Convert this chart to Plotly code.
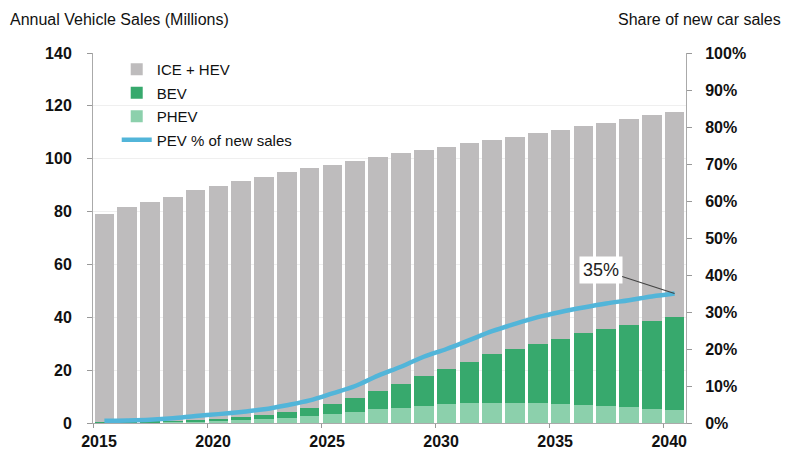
import plotly.graph_objects as go

years = list(range(2015, 2041))
ice_hev = [78.8, 81.2, 82.9, 84.9, 86.9, 88.3, 89.3, 90.1, 90.8, 90.9, 90.6, 89.9, 88.4,
           87.4, 85.7, 84.1, 82.9, 80.9, 80.2, 79.8, 79.2, 78.3, 77.9, 77.9, 77.7, 77.5]
bev = [0.15, 0.2, 0.3, 0.4, 0.6, 0.8, 1.2, 1.6, 2.0, 2.9, 3.7, 5.0, 6.9,
       8.8, 11.0, 13.4, 15.5, 18.3, 20.3, 22.3, 24.6, 27.1, 29.2, 31.1, 33.3, 35.3]
phev = [0.15, 0.2, 0.3, 0.4, 0.5, 0.7, 1.0, 1.4, 2.0, 2.6, 3.4, 4.3, 5.2,
        5.8, 6.6, 7.1, 7.4, 7.7, 7.7, 7.5, 7.2, 6.8, 6.4, 5.9, 5.4, 4.9]
pev_share = [0.6, 0.7, 0.9, 1.3, 1.9, 2.4, 3.0, 3.7, 4.8, 6.1, 8.0, 10.0, 12.8,
             15.2, 17.9, 20.0, 22.4, 24.8, 26.8, 28.6, 30.0, 31.2, 32.3, 33.2, 34.2, 35.0]
label_years = [2015, 2020, 2025, 2030, 2035, 2040]
left_ticks = [0, 20, 40, 60, 80, 100, 120, 140]
right_ticks = [0, 10, 20, 30, 40, 50, 60, 70, 80, 90, 100]
right_labels = ["0%", "10%", "20%", "30%", "40%", "50%", "60%", "70%", "80%", "90%", "100%"]

FONT = "Liberation Sans, Arial, sans-serif"
tickfont = dict(family=FONT, size=16, color="#111111", weight="bold")

fig = go.Figure()
fig.add_trace(go.Bar(x=years, y=phev, name="PHEV", marker_color="#8CD0AC",
                     marker_line_width=0, legendrank=3, legendgroup="c"))
fig.add_trace(go.Bar(x=years, y=bev, name="BEV", marker_color="#37A96D",
                     marker_line_width=0, legendrank=2, legendgroup="b"))
fig.add_trace(go.Bar(x=years, y=ice_hev, name="ICE + HEV", marker_color="#BEBCBD",
                     marker_line_width=0, legendrank=1, legendgroup="a"))
fig.add_trace(go.Scatter(x=years, y=pev_share, name="PEV % of new sales", yaxis="y2",
                         mode="lines", line=dict(color="#52B5D9", width=4.5, shape="spline"),
                         legendrank=4, legendgroup="d"))

fig.add_annotation(x=years[-1], y=pev_share[-1], xref="x", yref="y2",
                   text="35%", showarrow=True, arrowhead=0, arrowwidth=1.2,
                   arrowcolor="#444444", ax=-74, ay=-24, standoff=0,
                   bgcolor="white", borderpad=3,
                   font=dict(family=FONT, size=18, color="#222222"))

fig.add_annotation(text="Annual Vehicle Sales (Millions)", xref="paper", yref="paper",
                   x=-0.1425, y=1.09, xanchor="left", yanchor="middle", showarrow=False,
                   font=dict(family=FONT, size=16, color="#111111"))
fig.add_annotation(text="Share of new car sales", xref="paper", yref="paper",
                   x=1.163, y=1.09, xanchor="right", yanchor="middle", showarrow=False,
                   font=dict(family=FONT, size=16, color="#111111"))

fig.update_layout(
    width=800, height=458,
    margin=dict(l=85, r=122, t=45, b=43),
    paper_bgcolor="white", plot_bgcolor="white",
    barmode="stack", bargap=0.14,
    showlegend=True,
    legend=dict(x=0.04, y=1.0, xanchor="left", yanchor="top",
                bgcolor="rgba(0,0,0,0)", traceorder="grouped",
                font=dict(family=FONT, size=15, color="#111111"),
                tracegroupgap=1, itemwidth=30),
    xaxis=dict(range=[2014.5, 2040.5], tickmode="array",
               tickvals=[y - 0.5 for y in label_years], ticktext=[str(y) for y in label_years],
               ticklabelshift=6, ticks="outside", ticklen=4, tickcolor="#999999",
               showline=True, linecolor="#aaaaaa", linewidth=1, showgrid=False,
               zeroline=False, tickfont=tickfont),
    yaxis=dict(range=[0, 140], tickmode="array", tickvals=left_ticks,
               ticks="outside", ticklen=5, tickcolor="#999999",
               showline=True, linecolor="#aaaaaa", linewidth=1,
               showgrid=True, gridcolor="#efefef", zeroline=False,
               ticklabelstandoff=12, tickfont=tickfont),
    yaxis2=dict(range=[0, 100], overlaying="y", side="right", tickmode="array",
                tickvals=right_ticks, ticktext=right_labels,
                ticks="outside", ticklen=5, tickcolor="#999999",
                showline=True, linecolor="#aaaaaa", linewidth=1,
                showgrid=False, zeroline=False, ticklabelstandoff=10,
                tickfont=tickfont),
)

fig.write_html("out.html")
